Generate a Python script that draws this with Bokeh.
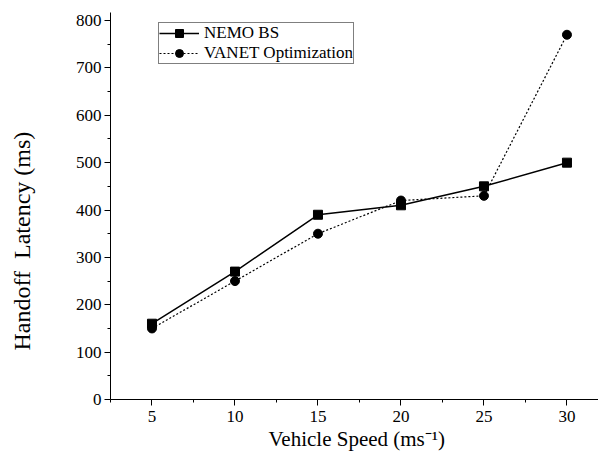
from bokeh.plotting import figure
from bokeh.models import (ColumnDataSource, FixedTicker, Legend, LegendItem,
                          Title, Range1d)
from bokeh.embed import file_html
from bokeh.resources import INLINE

# ---- data ----
speed = [5, 10, 15, 20, 25, 30]
nemo_bs = [160, 270, 390, 410, 450, 500]
vanet_opt = [150, 250, 350, 420, 430, 770]
x_ticks = [5, 10, 15, 20, 25, 30]
y_ticks = [0, 100, 200, 300, 400, 500, 600, 700, 800]
series_names = ["NEMO BS", "VANET Optimization"]
x_title = "Vehicle Speed (ms\u207b\u00b9)"
y_title = "Handoff\u00a0 Latency (ms)"

FONT = "Liberation Serif"

src = ColumnDataSource(dict(x=speed, nemo=nemo_bs, vanet=vanet_opt))

p = figure(width=598, height=453, output_backend="svg", toolbar_location=None,
           x_range=Range1d(2.5, 31.9), y_range=Range1d(0, 817),
           min_border_left=110, min_border_right=0, min_border_top=12,
           min_border_bottom=54)
p.outline_line_color = None
p.grid.visible = False
p.background_fill_color = "white"
p.border_fill_color = "white"

r1l = p.line("x", "nemo", source=src, line_color="black", line_width=1.5)
r1m = p.scatter("x", "nemo", source=src, marker="square", size=9,
                fill_color="black", line_color="black")
r2l = p.line("x", "vanet", source=src, line_color="black", line_width=1.2,
             line_dash="2 2")
r2m = p.scatter("x", "vanet", source=src, marker="circle", size=9,
                fill_color="black", line_color="black")

p.axis.axis_line_color = "black"
p.axis.axis_line_width = 1
p.axis.major_tick_line_color = "black"
p.axis.minor_tick_line_color = "black"
p.axis.major_tick_in = 0
p.axis.major_tick_out = 6
p.axis.minor_tick_in = 0
p.axis.minor_tick_out = 3
p.axis.major_label_text_color = "black"
p.axis.major_label_text_font_size = "17px"
p.axis.major_label_text_font = FONT

p.xaxis[0].ticker = FixedTicker(ticks=x_ticks,
                                minor_ticks=[t - 2.5 for t in x_ticks] + [32.5])
p.yaxis[0].ticker = FixedTicker(ticks=y_ticks,
                                minor_ticks=[t + 50 for t in y_ticks])
p.xaxis.major_label_standoff = 5
p.yaxis.major_label_standoff = 3

p.add_layout(Title(text=x_title, align="left", offset=158, standoff=0,
                   text_font=FONT, text_font_style="normal",
                   text_font_size="21px", text_color="black"), "below")
# invisible spacer panel between the y axis and its title
p.add_layout(Title(text="\u00a0", standoff=33, text_font_size="1px"), "left")
p.add_layout(Title(text=y_title, align="left", offset=49, standoff=0,
                   vertical_align="top",
                   text_font=FONT, text_font_style="normal",
                   text_font_size="24px", text_color="black"), "left")

legend = Legend(items=[LegendItem(label=series_names[0], renderers=[r1l, r1m]),
                       LegendItem(label=series_names[1], renderers=[r2l, r2m])],
                location=(48, 335))
legend.label_text_font = FONT
legend.label_text_font_size = "17px"
legend.label_text_color = "black"
legend.border_line_color = "black"
legend.border_line_width = 1
legend.background_fill_alpha = 1
legend.padding = 0
legend.spacing = 0
legend.margin = 0
legend.label_height = 20
legend.glyph_height = 20
legend.glyph_width = 40
legend.label_standoff = 5
p.add_layout(legend, "center")

open("out.html", "w").write(file_html(p, INLINE))
